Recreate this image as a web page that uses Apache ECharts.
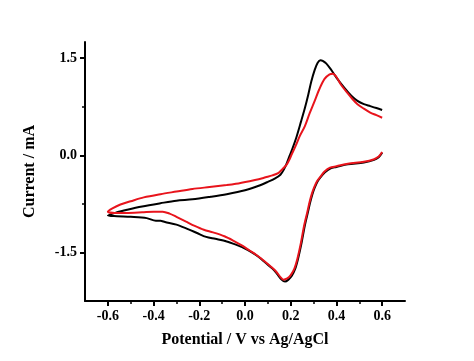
<!DOCTYPE html>
<html>
<head>
<meta charset="utf-8">
<script src="https://cdn.jsdelivr.net/npm/echarts@6/dist/echarts.min.js"></script>
<style>
html,body{margin:0;padding:0;background:#fff;}
#chart{width:474px;height:361px;}
</style>
</head>
<body>
<div id="chart"></div>
<script>
// Potential (V vs Ag/AgCl) and current (mA), in scan order
const blackPotential = [0.600,0.585,0.565,0.520,0.450,0.400,0.375,0.350,0.335,0.318,0.305,0.295,0.285,0.276,0.262,0.246,0.232,0.219,0.205,0.190,0.175,0.160,0.140,0.120,0.090,0.060,0.030,0.000,-0.040,-0.080,-0.130,-0.170,-0.210,-0.250,-0.300,-0.350,-0.370,-0.390,-0.430,-0.500,-0.560,-0.600,
  -0.560,-0.515,-0.450,-0.370,-0.300,-0.230,-0.150,-0.080,0.000,0.060,0.100,0.130,0.155,0.170,0.183,0.195,0.205,0.225,0.245,0.262,0.277,0.290,0.305,0.318,0.330,0.340,0.355,0.375,0.400,0.435,0.465,0.492,0.520,0.548,0.575,0.600];
const blackCurrent = [0.04,-0.03,-0.07,-0.11,-0.14,-0.18,-0.20,-0.26,-0.32,-0.40,-0.50,-0.60,-0.73,-0.87,-1.08,-1.38,-1.60,-1.76,-1.86,-1.92,-1.95,-1.92,-1.83,-1.75,-1.66,-1.57,-1.50,-1.44,-1.38,-1.33,-1.29,-1.26,-1.20,-1.14,-1.07,-1.03,-1.01,-1.01,-0.97,-0.95,-0.94,-0.93,
  -0.88,-0.84,-0.79,-0.74,-0.70,-0.68,-0.64,-0.60,-0.54,-0.47,-0.41,-0.36,-0.30,-0.22,-0.12,-0.01,0.08,0.28,0.52,0.73,0.94,1.14,1.32,1.43,1.47,1.46,1.42,1.33,1.20,1.04,0.92,0.84,0.79,0.76,0.73,0.70];

const redPotential = [0.600,0.585,0.565,0.520,0.450,0.400,0.372,0.348,0.332,0.315,0.302,0.292,0.282,0.273,0.259,0.243,0.229,0.216,0.200,0.185,0.168,0.155,0.135,0.110,0.080,0.050,0.020,-0.010,-0.050,-0.090,-0.140,-0.180,-0.220,-0.260,-0.300,-0.330,-0.360,-0.400,-0.450,-0.520,-0.570,-0.600,
  -0.580,-0.545,-0.500,-0.443,-0.370,-0.300,-0.230,-0.155,-0.080,-0.040,0.020,0.060,0.090,0.120,0.147,0.165,0.183,0.195,0.205,0.222,0.240,0.262,0.283,0.305,0.325,0.348,0.370,0.385,0.400,0.420,0.449,0.470,0.492,0.520,0.548,0.575,0.600];
const redCurrent = [0.05,-0.02,-0.06,-0.10,-0.13,-0.17,-0.19,-0.25,-0.32,-0.40,-0.50,-0.60,-0.73,-0.87,-1.08,-1.38,-1.60,-1.75,-1.85,-1.90,-1.92,-1.88,-1.79,-1.71,-1.62,-1.54,-1.47,-1.40,-1.32,-1.25,-1.19,-1.15,-1.09,-1.02,-0.95,-0.90,-0.87,-0.87,-0.88,-0.89,-0.89,-0.87,
  -0.82,-0.76,-0.71,-0.65,-0.60,-0.56,-0.52,-0.49,-0.46,-0.44,-0.40,-0.37,-0.34,-0.31,-0.27,-0.21,-0.14,-0.06,0.02,0.15,0.30,0.45,0.65,0.84,1.02,1.18,1.25,1.26,1.21,1.09,0.96,0.87,0.79,0.72,0.66,0.62,0.58];

const xMajorTicks = [-0.6,-0.4,-0.2,0.0,0.2,0.4,0.6];
const xMinorTicks = [-0.5,-0.3,-0.1,0.1,0.3,0.5];
const yMajorTicks = [-1.5,0.0,1.5];
const yMinorTicks = [-0.75,0.75];

const xName = 'Potential / V vs Ag/AgCl';
const yName = 'Current / mA';

const zip = (xs, ys) => xs.map((x, i) => [x, ys[i]]);

const font = '"Liberation Serif","Times New Roman",serif';
const chart = echarts.init(document.getElementById('chart'), null, {renderer: 'canvas'});
chart.setOption({
  animation: false,
  backgroundColor: '#fff',
  grid: {left: 85, right: 69, top: 42, bottom: 60},
  xAxis: [{
    type: 'value', min: -0.7, max: 0.7,
    name: xName, nameLocation: 'middle', nameGap: 31,
    nameTextStyle: {fontFamily: font, fontWeight: 'bold', fontSize: 16, color: '#000'},
    axisLine: {show: true, onZero: false, lineStyle: {color: '#000', width: 2}},
    axisTick: {show: true, inside: false, length: 5, lineStyle: {color: '#000', width: 2}, customValues: xMajorTicks},
    axisLabel: {show: true, margin: 8, fontFamily: font, fontWeight: 'bold', fontSize: 14, color: '#000',
      customValues: xMajorTicks, formatter: v => v.toFixed(1)},
    splitLine: {show: false}
  }, {
    type: 'value', min: -0.7, max: 0.7, position: 'bottom',
    axisLine: {show: false, onZero: false},
    axisTick: {show: true, length: 3, lineStyle: {color: '#000', width: 1.5}, customValues: xMinorTicks},
    axisLabel: {show: false},
    splitLine: {show: false}
  }],
  yAxis: [{
    type: 'value', min: -2.25, max: 1.75,
    name: yName, nameLocation: 'middle', nameGap: 47, nameRotate: 90,
    nameTextStyle: {fontFamily: font, fontWeight: 'bold', fontSize: 16, color: '#000'},
    axisLine: {show: true, onZero: false, lineStyle: {color: '#000', width: 2}},
    axisTick: {show: true, length: 5, lineStyle: {color: '#000', width: 2}, customValues: yMajorTicks},
    axisLabel: {show: true, margin: 8, fontFamily: font, fontWeight: 'bold', fontSize: 14, color: '#000',
      customValues: yMajorTicks, formatter: v => v.toFixed(1)},
    splitLine: {show: false}
  }, {
    type: 'value', min: -2.25, max: 1.75, position: 'left',
    axisLine: {show: false, onZero: false},
    axisTick: {show: true, length: 3, lineStyle: {color: '#000', width: 1.5}, customValues: yMinorTicks},
    axisLabel: {show: false},
    splitLine: {show: false}
  }],
  series: [{
    type: 'line', xAxisIndex: 0, yAxisIndex: 0,
    data: zip(blackPotential, blackCurrent),
    showSymbol: false, smooth: 0.3,
    lineStyle: {color: '#000', width: 2}, itemStyle: {color: '#000'}
  }, {
    type: 'line', xAxisIndex: 0, yAxisIndex: 0,
    data: zip(redPotential, redCurrent),
    showSymbol: false, smooth: 0.3,
    lineStyle: {color: '#e8141c', width: 2}, itemStyle: {color: '#e8141c'}
  }]
});
</script>
</body>
</html>
